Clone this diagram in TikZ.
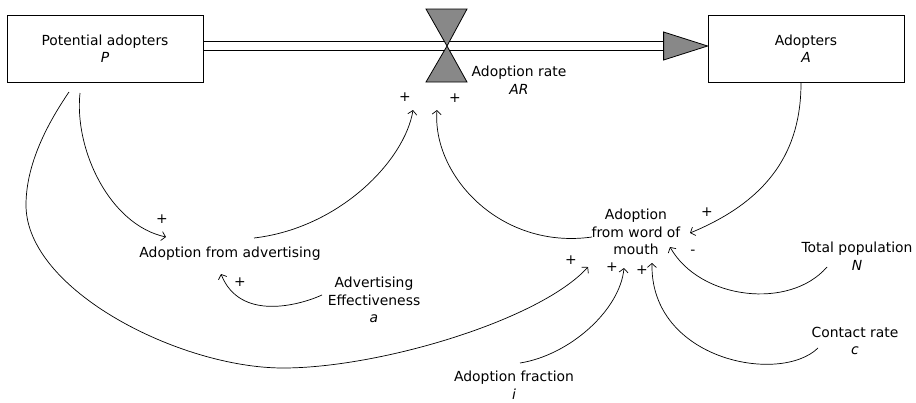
\documentclass[tikz,border=0pt]{standalone}
\usepackage{fontspec}
\setmainfont{DejaVu Sans}
\usetikzlibrary{arrows.meta,calc}
\definecolor{valvegray}{RGB}{136,136,136}
\begin{document}
\begin{tikzpicture}[x=1pt,y=-1pt,
  >={Straight Barb[length=4pt,width=9pt]},
  lbl/.style={align=center, inner sep=0pt, font=\fontsize{13.9}{17.5}\selectfont},
  stock/.style={lbl, draw, line width=0.8pt, minimum width=196pt, minimum height=67pt},
  link/.style={->, line width=0.7pt},
  sgn/.style={inner sep=0pt, font=\fontsize{13.9}{17.5}\selectfont},
  flowpart/.style={fill=valvegray, draw=black, line width=0.8pt, line join=miter}]
\useasboundingbox (0,0) rectangle (916,402);

% stocks
\node[stock] (P) at (105,48.5) {Potential adopters\\\textit{P}};
\node[stock] (A) at (806,48.5) {Adopters\\\textit{A}};

% valve and pipe
\coordinate (V) at (447,46);
\coordinate (pipeS) at (P.east|-V);
\coordinate (T) at (A.west|-V);
\draw[line width=0.8pt] ($(pipeS)+(0,-4.7)$) -- ($(T)+(-44,-4.7)$);
\draw[line width=0.8pt] ($(pipeS)+(0,4.7)$) -- ($(T)+(-44,4.7)$);
\draw[flowpart] ($(V)+(-21,-37)$) -- ($(V)+(20,-37)$) -- (V) -- cycle;
\draw[flowpart] ($(V)+(-21,36)$) -- ($(V)+(20,36)$) -- (V) -- cycle;
\draw[flowpart] ($(T)+(-44,-14)$) -- (T) -- ($(T)+(-44,14)$) -- cycle;
\node[lbl] (AR) at (519,80) {Adoption rate\\\textit{AR}};

% auxiliaries
\node[lbl] (AfA) at (230,254) {Adoption from advertising};
\node[lbl] (AE) at (374,300) {Advertising\\Effectiveness\\\textit{a}};
\node[lbl] (WoM) at (636,232) {Adoption\\from word of\\mouth};
\node[lbl] (TP) at (857,256) {Total population\\\textit{N}};
\node[lbl] (CR) at (855,341) {Contact rate\\\textit{c}};
\node[lbl] (AF) at (514,385) {Adoption fraction\\\textit{i}};

% links
\draw[link] ($(P)+(-25,44.5)$) .. controls (74,150) and (110,225) .. ($(AfA)+(-64,-17)$);
\draw[link] ($(AfA)+(24,-16)$) .. controls (340,228) and (405,160) .. ($(V)+(-34,64)$);
\draw[link] ($(AE)+(-52,-5)$) .. controls (300,305) and (240,322) .. ($(AfA)+(-9,20)$);
\draw[link] ($(P)+(-36,43.5)$) .. controls (52,117) and (26,160) .. (26,205)
   .. controls (26,290) and (180,368) .. (283,368)
   .. controls (380,368) and (540,320) .. ($(WoM)+(-48,35)$);
\draw[link] ($(WoM)+(-44,5)$) .. controls (500,250) and (432,175) .. ($(V)+(-10,64)$);
\draw[link] ($(A)+(-5,34.5)$) .. controls (801,150) and (770,200) .. ($(WoM)+(54,1)$);
\draw[link] ($(TP)+(-30,11)$) .. controls (790,310) and (700,300) .. ($(WoM)+(34,15)$);
\draw[link] ($(CR)+(-37,7)$) .. controls (780,385) and (650,360) .. ($(WoM)+(16,31)$);
\draw[link] ($(AF)+(6,-22)$) .. controls (570,355) and (620,310) .. ($(WoM)+(-12,36)$);

% signs
\node[sgn] (s1) at (405,97) {+};
\node[sgn] (s2) at (455,98) {+};
\node[sgn] (s3) at (162,219) {+};
\node[sgn] (s4) at (240,282) {+};
\node[sgn] (s5) at (571,260) {+};
\node[sgn] (s6) at (612,267) {+};
\node[sgn] (s7) at (642,270) {+};
\node[sgn] (s8) at (707,212) {+};
\node[sgn] (s9) at (693,252) {-};
\end{tikzpicture}
\end{document}
